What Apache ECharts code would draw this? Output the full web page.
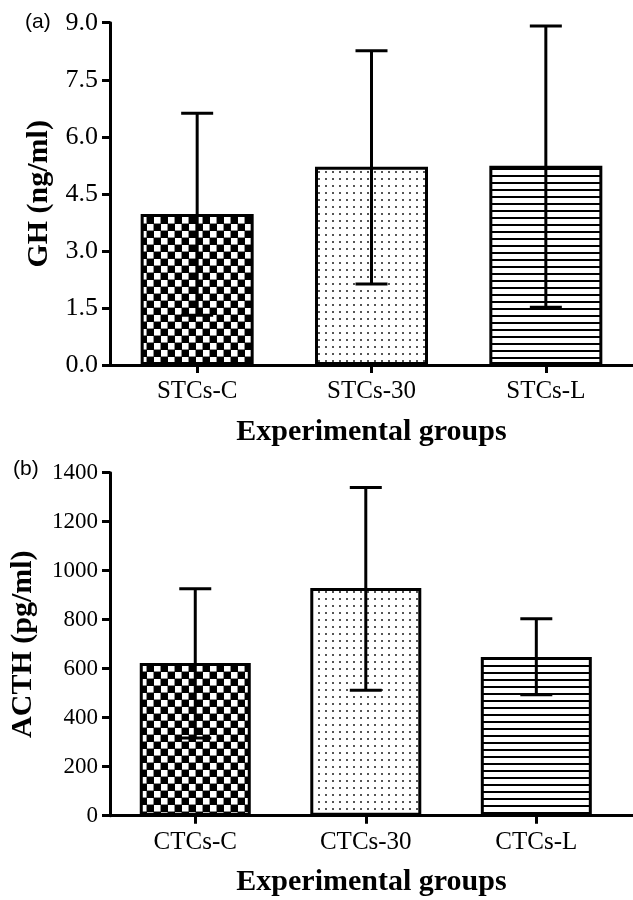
<!DOCTYPE html>
<html>
<head>
<meta charset="utf-8">
<title>GH / ACTH</title>
<script src="https://cdn.jsdelivr.net/npm/echarts@6/dist/echarts.min.js"></script>
<style>
  html, body { margin: 0; padding: 0; background: #fff; }
  #main { width: 633px; height: 900px; }
</style>
</head>
<body>
<div id="main"></div>
<script>
// (a) GH
const ghGroups = ["STCs-C", "STCs-30", "STCs-L"];
const ghMean = [3.97, 5.21, 5.24];
const ghLow = [1.31, 2.13, 1.52];
const ghHigh = [6.62, 8.26, 8.91];

// (b) ACTH
const acthGroups = ["CTCs-C", "CTCs-30", "CTCs-L"];
const acthMean = [623, 929, 648];
const acthLow = [317, 512, 494];
const acthHigh = [926, 1340, 804];

const serif = "'Liberation Serif', 'Times New Roman', serif";
const sans = "'Liberation Sans', Arial, sans-serif";

// 图案填充
function makeTile(w, h, draw) {
  const c = document.createElement("canvas");
  c.width = w;
  c.height = h;
  const ctx = c.getContext("2d");
  ctx.fillStyle = "#fff";
  ctx.fillRect(0, 0, w, h);
  draw(ctx);
  return { image: c, repeat: "repeat" };
}

const checker = makeTile(14, 14, (ctx) => {
  ctx.fillStyle = "#000";
  ctx.fillRect(0, 0, 7, 7);
  ctx.fillRect(7, 7, 7, 7);
  ctx.fillStyle = "rgba(0,0,0,0.45)";
  ctx.fillRect(0, 13, 14, 1);
  ctx.fillRect(13, 0, 1, 14);
  ctx.fillRect(0, 6, 14, 1);
  ctx.fillRect(6, 0, 1, 14);
});
const dots = makeTile(7, 7, (ctx) => {
  ctx.fillStyle = "#555";
  ctx.fillRect(3, 3, 2, 2);
});
const stripes = makeTile(7, 7, (ctx) => {
  ctx.fillStyle = "#000";
  ctx.fillRect(0, 0, 7, 2);
});
const patterns = [checker, dots, stripes];

function barData(means) {
  return means.map((v, i) => ({ value: [i, v], itemStyle: { color: patterns[i] } }));
}

function errData(low, high) {
  return low.map((v, i) => [i, v, high[i]]);
}

function errorItem(params, api) {
  const x = api.value(0);
  const lo = api.coord([x, api.value(1)]);
  const hi = api.coord([x, api.value(2)]);
  const half = 16;
  const style = { stroke: "#000", lineWidth: 3 };
  return {
    type: "group",
    children: [
      { type: "line", shape: { x1: lo[0], y1: lo[1], x2: hi[0], y2: hi[1] }, style: style },
      { type: "line", shape: { x1: hi[0] - half, y1: hi[1], x2: hi[0] + half, y2: hi[1] }, style: style },
      { type: "line", shape: { x1: lo[0] - half, y1: lo[1], x2: lo[0] + half, y2: lo[1] }, style: style },
    ],
  };
}

const axisLine = { show: true, onZero: false, lineStyle: { color: "#000", width: 3 } };

function xAxis(gridIndex, groups, max) {
  return {
    type: "value",
    gridIndex: gridIndex,
    min: -0.5,
    max: max,
    splitLine: { show: false },
    axisLine: axisLine,
    axisTick: { show: true, length: 8, customValues: [0, 1, 2], lineStyle: { color: "#000", width: 3 } },
    axisLabel: {
      customValues: [0, 1, 2],
      formatter: (v) => groups[Math.round(v)],
      color: "#000",
      fontFamily: serif,
      fontSize: 25,
      margin: 14,
    },
    name: "Experimental groups",
    nameLocation: "middle",
    nameGap: 52,
    nameTextStyle: { color: "#000", fontFamily: serif, fontWeight: "bold", fontSize: 30 },
  };
}

function yAxis(gridIndex, name, max, interval, digits, fontSize, nameGap) {
  return {
    type: "value",
    gridIndex: gridIndex,
    min: 0,
    max: max,
    interval: interval,
    splitLine: { show: false },
    axisLine: axisLine,
    axisTick: { show: true, length: 8, lineStyle: { color: "#000", width: 3 } },
    axisLabel: {
      formatter: (v) => v.toFixed(digits),
      color: "#000",
      fontFamily: serif,
      fontSize: fontSize,
      margin: 12,
    },
    name: name,
    nameLocation: "middle",
    nameRotate: 90,
    nameGap: nameGap,
    nameTextStyle: { color: "#000", fontFamily: serif, fontWeight: "bold", fontSize: 30 },
  };
}

const chart = echarts.init(document.getElementById("main"), null, { renderer: "canvas" });
const option = {
  animation: false,
  backgroundColor: "#fff",
  grid: [
    { left: 110, top: 22.7, width: 525, height: 342.3 },
    { left: 110, top: 472.7, width: 523, height: 343 },
  ],
  xAxis: [xAxis(0, ghGroups, 2.5), xAxis(1, acthGroups, 2.567)],
  yAxis: [
    yAxis(0, "GH (ng/ml)", 9, 1.5, 1, 26, 56),
    yAxis(1, "ACTH (pg/ml)", 1400, 200, 0, 23, 72),
  ],
  graphic: [
    { type: "text", left: 25, top: 12, style: { text: "(a)", font: "21px " + sans, fill: "#000" } },
    { type: "text", left: 13, top: 459, style: { text: "(b)", font: "21px " + sans, fill: "#000" } },
  ],
  series: [
    {
      type: "bar",
      xAxisIndex: 0,
      yAxisIndex: 0,
      barWidth: 113,
      itemStyle: { borderColor: "#000", borderWidth: 3 },
      data: barData(ghMean),
    },
    {
      type: "custom",
      xAxisIndex: 0,
      yAxisIndex: 0,
      z: 5,
      renderItem: errorItem,
      data: errData(ghLow, ghHigh),
    },
    {
      type: "bar",
      xAxisIndex: 1,
      yAxisIndex: 1,
      barWidth: 111,
      itemStyle: { borderColor: "#000", borderWidth: 3 },
      data: barData(acthMean),
    },
    {
      type: "custom",
      xAxisIndex: 1,
      yAxisIndex: 1,
      z: 5,
      renderItem: errorItem,
      data: errData(acthLow, acthHigh),
    },
  ],
};
chart.setOption(option);
</script>
</body>
</html>
